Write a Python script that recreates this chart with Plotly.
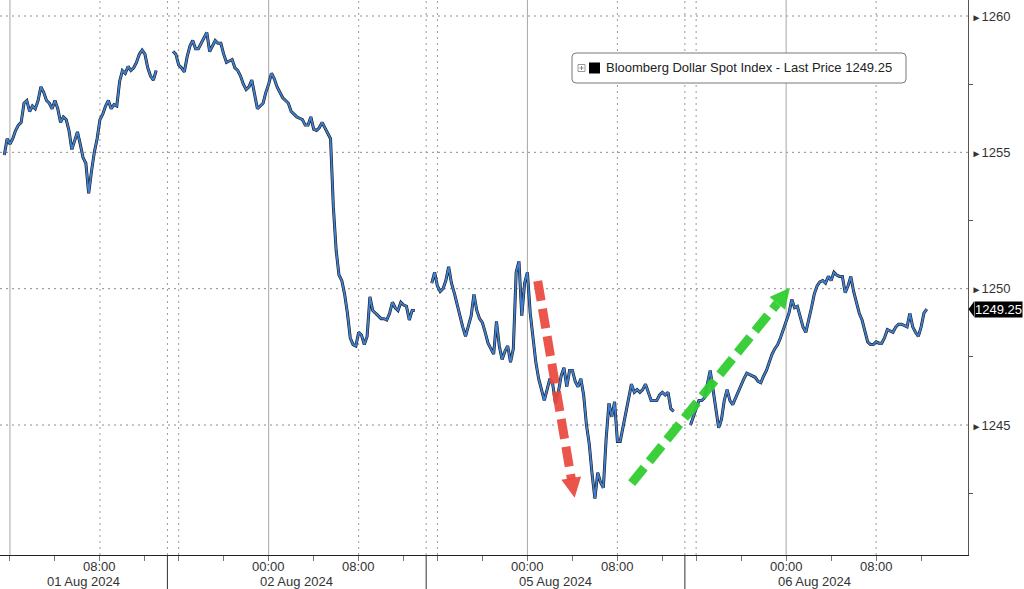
import pandas as pd
import plotly.graph_objects as go

# ---------------- data (15-min closes, Pacific time; one row = one hour) ----------------
s1_start = "2024-07-31 23:30"
s1_vals = [1254.9, 1255.5,
           1255.3, 1255.5, 1255.8, 1256.0,
           1256.1, 1256.8, 1256.9, 1256.5,
           1256.7, 1256.6, 1256.9, 1257.4,
           1257.2, 1256.9, 1256.8, 1256.6,
           1256.9, 1256.6, 1256.1, 1256.3,
           1256.2, 1255.8, 1255.1, 1255.4,
           1255.75, 1255.3, 1254.8, 1254.6,
           1253.5, 1254.3, 1255.0, 1255.5,
           1256.2, 1256.4, 1256.7, 1256.9,
           1256.6, 1256.75, 1256.7, 1257.6,
           1258.0, 1257.9, 1258.15, 1258.0,
           1258.1, 1258.3, 1258.6, 1258.75,
           1258.6, 1258.1, 1257.8, 1257.65,
           1258.0]
s2_start = "2024-08-01 15:30"
s2_vals = [1258.7, 1258.6,
           1258.2, 1258.1, 1257.95, 1258.5,
           1258.9, 1259.1, 1258.8, 1258.8,
           1259.0, 1259.2, 1259.4, 1258.7,
           1258.9, 1259.1, 1259.0, 1259.0,
           1258.6, 1258.3, 1258.35, 1258.4,
           1258.1, 1258.0, 1257.8, 1257.5,
           1257.3, 1257.4, 1257.65, 1257.1,
           1256.6, 1256.7, 1256.8, 1257.2,
           1257.5, 1257.9, 1257.7, 1257.4,
           1257.2, 1257.0, 1256.9, 1256.8,
           1256.5, 1256.4, 1256.3, 1256.25,
           1256.2, 1256.0, 1256.0, 1256.3,
           1255.85, 1255.8, 1255.9, 1256.1,
           1255.9, 1255.7, 1255.5, 1253.0,
           1251.4, 1250.5, 1250.3, 1249.8,
           1249.1, 1248.2, 1247.95, 1247.9,
           1248.4, 1248.3, 1247.95, 1248.25,
           1249.7, 1249.2, 1249.1, 1249.0,
           1248.9, 1248.9, 1248.85, 1249.1,
           1249.5, 1249.3, 1249.2, 1249.5,
           1249.4, 1249.35, 1248.85, 1249.2,
           1249.2]
s3_start = "2024-08-04 15:30"
s3_vals = [1250.2, 1250.6,
           1250.1, 1249.9, 1250.0, 1250.3,
           1250.8, 1250.2, 1249.85, 1249.4,
           1249.0, 1248.6, 1248.25, 1248.6,
           1249.0, 1249.8, 1249.2, 1248.9,
           1248.75, 1248.4, 1248.0, 1247.8,
           1247.6, 1248.8, 1247.9, 1247.4,
           1247.7, 1247.9, 1247.3, 1247.8,
           1250.6, 1251.0, 1249.0, 1250.2,
           1250.6, 1249.1, 1248.1, 1247.3,
           1246.7, 1246.3, 1245.9, 1246.3,
           1246.7, 1246.5, 1245.8, 1246.2,
           1246.8, 1247.1, 1246.4, 1247.0,
           1247.0, 1246.6, 1246.4, 1246.7,
           1246.1, 1245.0, 1244.3, 1243.2,
           1242.3, 1243.25, 1242.9, 1242.7,
           1244.5, 1245.8, 1245.3, 1245.85,
           1244.4, 1244.4, 1244.9, 1245.5,
           1245.9, 1246.5, 1246.2, 1246.3,
           1246.2, 1246.3, 1246.5, 1246.2,
           1245.9, 1245.9, 1245.9, 1246.1,
           1246.2, 1246.1, 1246.2, 1245.6,
           1245.5]
s4_start = "2024-08-05 15:30"
s4_vals = [1245.0, 1245.3,
           1245.6, 1245.9, 1245.9, 1246.0,
           1246.5, 1247.0, 1246.3, 1245.6,
           1244.9, 1245.2, 1245.9, 1246.3,
           1245.9, 1245.75, 1246.0, 1246.2,
           1246.5, 1246.7, 1246.9, 1246.85,
           1246.8, 1246.75, 1246.6, 1246.55,
           1246.8, 1247.0, 1247.3, 1247.6,
           1247.8, 1247.95, 1248.2, 1248.5,
           1248.75, 1249.1, 1249.6, 1249.3,
           1249.35, 1249.0, 1248.6, 1248.4,
           1248.8, 1249.3, 1249.8, 1250.1,
           1250.25, 1250.3, 1250.2, 1250.45,
           1250.3, 1250.6, 1250.5, 1250.45,
           1250.45, 1249.85, 1250.1, 1250.45,
           1249.9, 1249.5, 1249.1, 1248.85,
           1248.4, 1248.05, 1247.95, 1247.95,
           1248.05, 1248.0, 1248.0, 1248.2,
           1248.5, 1248.45, 1248.4, 1248.6,
           1248.7, 1248.7, 1248.65, 1248.6,
           1249.1, 1248.6, 1248.4, 1248.25,
           1248.6, 1249.1, 1249.25]
last_price = 1249.25

y_ticks = [1245, 1250, 1255, 1260]
y_minor = [1242.5, 1247.5, 1252.5, 1257.5]
x_tick_times = ["2024-08-01 00:00", "2024-08-01 04:00", "2024-08-01 08:00", "2024-08-01 12:00",
                "2024-08-01 16:00", "2024-08-01 20:00", "2024-08-02 00:00", "2024-08-02 04:00",
                "2024-08-02 08:00", "2024-08-02 12:00", "2024-08-04 16:00", "2024-08-04 20:00",
                "2024-08-05 00:00", "2024-08-05 04:00", "2024-08-05 08:00", "2024-08-05 12:00",
                "2024-08-05 16:00", "2024-08-05 20:00", "2024-08-06 00:00", "2024-08-06 04:00",
                "2024-08-06 08:00", "2024-08-06 12:00"]
time_labels = ["08:00", "00:00", "08:00", "00:00", "08:00", "00:00", "08:00"]
time_label_pos = ["2024-08-01 08:00", "2024-08-02 00:00", "2024-08-02 08:00", "2024-08-05 00:00",
                  "2024-08-05 08:00", "2024-08-06 00:00", "2024-08-06 08:00"]
date_labels = ["01 Aug 2024", "02 Aug 2024", "05 Aug 2024", "06 Aug 2024"]
date_label_pos = ["2024-08-01 06:30", "2024-08-02 02:30", "2024-08-05 02:30", "2024-08-06 02:30"]
midnights = ["2024-08-01 00:00", "2024-08-02 00:00", "2024-08-05 00:00", "2024-08-06 00:00"]
dotted_times = ["2024-08-01 08:00", "2024-08-01 16:00", "2024-08-02 08:00", "2024-08-04 16:00",
                "2024-08-05 08:00", "2024-08-05 16:00", "2024-08-06 08:00"]
separators = ["2024-08-01 13:59:59", "2024-08-02 13:59:59", "2024-08-05 13:59:59"]
breaks = [["2024-08-01 14:00", "2024-08-01 15:00"], ["2024-08-02 14:00", "2024-08-04 15:00"],
          ["2024-08-05 14:00", "2024-08-05 15:00"], ["2024-08-06 14:00", "2024-08-06 15:00"]]

# ---------------- build series ----------------
xs, ys = [], []
for start, vals in [(s1_start, s1_vals), (s2_start, s2_vals), (s3_start, s3_vals), (s4_start, s4_vals)]:
    t = pd.date_range(start, periods=len(vals), freq="15min")
    xs += list(t.strftime("%Y-%m-%d %H:%M")) + [None]
    ys += list(vals) + [None]

fig = go.Figure()
fig.add_trace(go.Scatter(x=xs, y=ys, mode="lines", line=dict(color="#1a1a1a", width=3.0),
                         connectgaps=False, hoverinfo="skip", showlegend=False))
fig.add_trace(go.Scatter(x=xs, y=ys, mode="lines", line=dict(color="#3f80d2", width=1.8),
                         connectgaps=False, showlegend=False))

FONT = "Liberation Sans, Arial, sans-serif"
W, H = 1024, 589
ML, MR, MT, MB = 0, 56, 0, 34
PW, PH = W - ML - MR, H - MT - MB


def px(x):
    return x / PW


def py(y):
    return 1 - y / PH


shapes = []
for v in y_ticks:
    shapes.append(dict(type="line", xref="paper", yref="y", x0=0, x1=1, y0=v, y1=v,
                       line=dict(color="#8c8c8c", width=1, dash="2px,4px"), layer="below"))
for t in midnights:
    shapes.append(dict(type="line", xref="x", yref="paper", x0=t, x1=t, y0=0, y1=1,
                       line=dict(color="#a6a6a6", width=1), layer="below"))
for t in dotted_times + separators:
    shapes.append(dict(type="line", xref="x", yref="paper", x0=t, x1=t, y0=0, y1=1,
                       line=dict(color="#9a9a9a", width=1, dash="2px,4px"), layer="below"))
for t in separators:
    shapes.append(dict(type="line", xref="x", yref="paper", x0=t, x1=t, y0=0, y1=-0.07,
                       line=dict(color="#333333", width=1)))

red_arrow = dict(start=("2024-08-05 00:55", 1250.28), base=("2024-08-05 03:55", 1243.0),
                 tip=("2024-08-05 04:12", 1242.33))
green_arrow = dict(start=("2024-08-05 09:16", 1242.87), base=("2024-08-05 23:13", 1249.46),
                   tip=("2024-08-06 00:20", 1250.03))
for arr, col in [(red_arrow, "rgba(234,70,60,0.92)"), (green_arrow, "rgba(48,206,48,0.95)")]:
    shapes.append(dict(type="line", xref="x", yref="y",
                       x0=arr["start"][0], y0=arr["start"][1], x1=arr["base"][0], y1=arr["base"][1],
                       line=dict(color=col, width=9, dash="20px,8px")))
    fig.add_annotation(x=arr["tip"][0], y=arr["tip"][1], ax=arr["base"][0], ay=arr["base"][1],
                       xref="x", yref="y", axref="x", ayref="y", text="", showarrow=True,
                       arrowhead=2, arrowwidth=1, arrowsize=4, arrowcolor=col)

x0, x1, y0, y1 = 572, 906, 53, 83
r = 4
path = (f"M {px(x0 + r)},{py(y0)} L {px(x1 - r)},{py(y0)} Q {px(x1)},{py(y0)} {px(x1)},{py(y0 + r)} "
        f"L {px(x1)},{py(y1 - r)} Q {px(x1)},{py(y1)} {px(x1 - r)},{py(y1)} "
        f"L {px(x0 + r)},{py(y1)} Q {px(x0)},{py(y1)} {px(x0)},{py(y1 - r)} "
        f"L {px(x0)},{py(y0 + r)} Q {px(x0)},{py(y0)} {px(x0 + r)},{py(y0)} Z")
shapes.append(dict(type="path", xref="paper", yref="paper", path=path,
                   line=dict(color="#777777", width=1), fillcolor="white"))
shapes.append(dict(type="rect", xref="paper", yref="paper", x0=px(578), x1=px(585), y0=py(64.5), y1=py(71.5),
                   line=dict(color="#999999", width=1), fillcolor="white"))
shapes.append(dict(type="line", xref="paper", yref="paper", x0=px(579.5), x1=px(583.5), y0=py(68), y1=py(68),
                   line=dict(color="#888888", width=1)))
shapes.append(dict(type="line", xref="paper", yref="paper", x0=px(581.5), x1=px(581.5), y0=py(66), y1=py(70),
                   line=dict(color="#888888", width=1)))
shapes.append(dict(type="rect", xref="paper", yref="paper", x0=px(589), x1=px(600), y0=py(62.5), y1=py(73.5),
                   line=dict(width=0), fillcolor="#000000"))
fig.add_annotation(x=px(604), y=py(68), xref="paper", yref="paper", xanchor="left", yanchor="middle",
                   text="Bloomberg Dollar Spot Index - Last Price " + f"{last_price:.2f}",
                   showarrow=False, font=dict(family=FONT, size=13, color="#222222"))

shapes.append(dict(type="path", xref="paper", yref="y",
                   path=f"M {px(968.5)},{last_price} L {px(974)},{last_price + 0.28} L {px(974)},{last_price - 0.28} Z",
                   fillcolor="#000000", line=dict(width=0)))
fig.add_annotation(x=px(998.5), y=last_price, xref="paper", yref="y", xanchor="center", yanchor="middle",
                   text=f"{last_price:.2f}", showarrow=False, bgcolor="#000000", borderpad=0,
                   font=dict(family=FONT, size=13, color="#ffffff"))

for lab, pos in zip(time_labels, time_label_pos):
    fig.add_annotation(x=pos, y=py(566), xref="x", yref="paper", text=lab, showarrow=False,
                       xanchor="center", yanchor="middle", font=dict(family=FONT, size=13, color="#333333"))
for lab, pos in zip(date_labels, date_label_pos):
    fig.add_annotation(x=pos, y=py(581.5), xref="x", yref="paper", text=lab, showarrow=False,
                       xanchor="center", yanchor="middle", font=dict(family=FONT, size=13, color="#333333"))

fig.update_layout(
    width=W, height=H, margin=dict(l=ML, r=MR, t=MT, b=MB),
    paper_bgcolor="white", plot_bgcolor="white", showlegend=False,
    shapes=shapes,
    xaxis=dict(type="date", range=["2024-07-31 23:07", "2024-08-06 17:10"],
               rangebreaks=[dict(bounds=b) for b in breaks],
               tickmode="array", tickvals=x_tick_times, ticktext=[""] * len(x_tick_times),
               ticks="outside", ticklen=5, tickcolor="#777777", showgrid=False, zeroline=False,
               showline=True, linecolor="#222222", linewidth=1, fixedrange=True),
    yaxis=dict(side="right", range=[1240.233, 1260.587], tickmode="array", tickvals=y_ticks,
               ticktext=[f"<span style='font-size:10px'>►</span>{v}" for v in y_ticks],
               ticks="", showgrid=False, zeroline=False, showline=True, linecolor="#555555",
               linewidth=1, tickfont=dict(family=FONT, size=13, color="#333333"),
               minor=dict(tickmode="array", tickvals=y_minor, ticks="outside", ticklen=4,
                          tickcolor="#555555"), fixedrange=True),
)

fig.write_html("out.html", config={"displayModeBar": False},
               post_script="document.body.style.margin='0';")
